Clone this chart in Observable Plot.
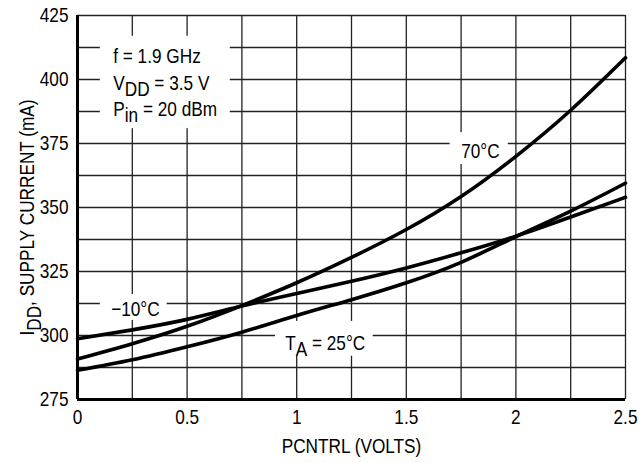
<!DOCTYPE html>
<html><head><meta charset="utf-8">
<script src="https://cdn.jsdelivr.net/npm/d3@7"></script>
<script src="https://cdn.jsdelivr.net/npm/@observablehq/plot@0.6"></script>
<style>body{margin:0;background:#fff;} #chart{width:639px;height:463px;}</style>
</head><body><div id="chart"></div>
<script>
// PCNTRL (volts)
const pcntrl = [0, 0.25, 0.5, 0.75, 1, 1.25, 1.5, 1.75, 2, 2.25, 2.5];
// IDD supply current (mA) per ambient temperature
const idd70  = [290.8, 296.8, 303.6, 311.7, 320.6, 330.5, 341.4, 354.3, 370.0, 388.0, 408.5];
const iddM10 = [298.7, 302.2, 306.3, 311.5, 316.4, 321.2, 326.4, 332.3, 338.8, 346.3, 354.0];
const idd25  = [286.4, 290.5, 295.6, 301.3, 307.8, 314.0, 320.6, 328.6, 338.6, 348.6, 359.5];
const seriesNames = ["70°C", "−10°C", "T_{A} = 25°C"];

const xTicks = [0, 0.5, 1, 1.5, 2, 2.5];
const yTicks = [275, 300, 325, 350, 375, 400, 425];
const xGrid = [0.25, 0.5, 0.75, 1, 1.25, 1.5, 1.75, 2, 2.25, 2.5];
const yGrid = [287.5, 300, 312.5, 325, 337.5, 350, 362.5, 375, 387.5, 400, 412.5, 425];

const xTitle = "PCNTRL (VOLTS)";
const yTitle = "I_{DD}, SUPPLY CURRENT (mA)";
const conditions = ["f = 1.9 GHz", "V_{DD} = 3.5 V", "P_{in} = 20 dBm"];
const conditionY = [409.0, 398.6, 388.3];
const conditionX = 0.163;

// label positions (data units) and the gaps they cut into the grid
const labelText = [seriesNames[0], seriesNames[1], seriesNames[2]];
const labelX = [1.838, 0.264, 1.130];
const labelY = [371.9, 310.3, 296.9];
const gapX1 = [1.700, 0.104, 0.903, 0.104];
const gapX2 = [1.965, 0.409, 1.349, 0.697];
const gapY1 = [366.8, 305.9, 291.9, 380.8];
const gapY2 = [379.2, 316.0, 305.5, 416.9];

const rows = [];
[idd70, iddM10, idd25].forEach((arr, k) => arr.forEach((v, i) => rows.push({s: seriesNames[k], x: pcntrl[i], y: v})));
const gaps = gapX1.map((d, i) => ({x1: gapX1[i], x2: gapX2[i], y1: gapY1[i], y2: gapY2[i]}));
const labels = labelText.map((t, i) => ({t, x: labelX[i], y: labelY[i]}));
const conds = conditions.map((t, i) => ({t, x: conditionX, y: conditionY[i]}));

const FONT = "'Liberation Sans', Arial, sans-serif";
const NARROW = 0.82;

const svg = Plot.plot({
  width: 639, height: 463,
  marginLeft: 77, marginRight: 14, marginTop: 15, marginBottom: 64,
  style: {fontFamily: FONT, fontSize: "21px", color: "#000", background: "#fff", overflow: "visible"},
  x: {domain: [0, 2.5], ticks: xTicks, tickFormat: d => String(d), tickSize: 0, tickPadding: 10, label: null},
  y: {domain: [275, 425], ticks: yTicks, tickFormat: d => String(d), tickSize: 0, tickPadding: 9, label: null},
  marks: [
    Plot.ruleX(xGrid, {stroke: "#222", strokeWidth: 1.3}),
    Plot.ruleY(yGrid, {stroke: "#222", strokeWidth: 1.3}),
    Plot.rect(gaps, {x1: "x1", x2: "x2", y1: "y1", y2: "y2", fill: "#fff"}),
    Plot.line(rows, {x: "x", y: "y", z: "s", curve: "natural", stroke: "#000", strokeWidth: 3.6}),
    Plot.ruleX([0], {stroke: "#000", strokeWidth: 3}),
    Plot.ruleY([275], {stroke: "#000", strokeWidth: 3}),
    Plot.text(labels, {x: "x", y: "y", text: "t", fill: "#000", fontSize: 21, textAnchor: "middle", lineAnchor: "middle"}),
    Plot.text(conds, {x: "x", y: "y", text: "t", textAnchor: "start", lineAnchor: "middle", fill: "#000", fontSize: 21}),
    Plot.text([xTitle], {frameAnchor: "bottom", dy: 47, textAnchor: "middle", lineAnchor: "middle", fill: "#000", fontSize: 21}),
    Plot.text([yTitle], {frameAnchor: "left", dx: -50, dy: 10, rotate: -90, textAnchor: "middle", lineAnchor: "middle", fill: "#000", fontSize: 21})
  ]
});

// render "_{...}" as subscripts
svg.querySelectorAll("text").forEach(el => {
  const s = el.textContent;
  if (!s.includes("_{")) return;
  while (el.firstChild) el.removeChild(el.firstChild);
  const parts = s.split(/(_\{[^}]*\})/);
  let down = false;
  parts.forEach(p => {
    if (!p) return;
    const ts = document.createElementNS("http://www.w3.org/2000/svg", "tspan");
    if (p.startsWith("_{")) {
      ts.textContent = p.slice(2, -1);
      ts.setAttribute("dy", "0.3em");
      down = true;
    } else {
      ts.textContent = p;
      if (down) { ts.setAttribute("dy", "-0.3em"); down = false; }
    }
    el.appendChild(ts);
  });
});

// narrow (condensed) lettering: squeeze each text horizontally about its anchor
svg.querySelectorAll("text").forEach(el => {
  const x = parseFloat(el.getAttribute("x")) || 0;
  const y = parseFloat(el.getAttribute("y")) || 0;
  const t = el.getAttribute("transform") || "";
  el.setAttribute("transform", `${t} translate(${x},${y}) scale(${NARROW},1) translate(${-x},${-y})`.trim());
});

document.getElementById("chart").appendChild(svg);
</script>
</body></html>
